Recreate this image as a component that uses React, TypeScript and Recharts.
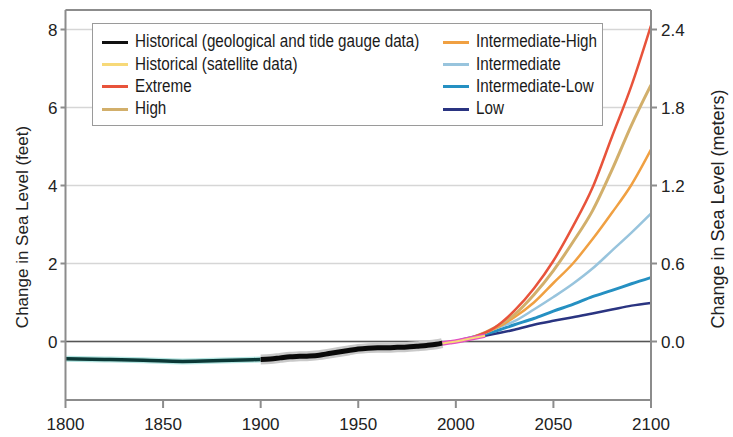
import { LineChart, Line, XAxis, YAxis, CartesianGrid, ReferenceLine, Legend } from 'recharts'

const geoYears = [1800, 1820, 1840, 1860, 1880, 1900]
const geoFeet = [-0.44, -0.46, -0.48, -0.51, -0.49, -0.46]

const tideYears = [1900, 1905, 1910, 1915, 1920, 1925, 1930, 1935, 1940, 1945, 1950, 1955, 1960, 1965, 1970, 1975, 1980, 1985, 1990, 1993]
const tideFeet = [-0.46, -0.45, -0.42, -0.39, -0.38, -0.37, -0.35, -0.31, -0.27, -0.23, -0.19, -0.17, -0.16, -0.16, -0.15, -0.14, -0.12, -0.1, -0.07, -0.04]

const satYears = [1993, 1997, 2000, 2005, 2010, 2015]
const satFeet = [-0.05, -0.02, 0.0, 0.05, 0.1, 0.15]

const projYears = [2000, 2010, 2020, 2030, 2040, 2050, 2060, 2070, 2080, 2090, 2100]
const extremeFeet = [0, 0.13, 0.36, 0.79, 1.36, 2.07, 2.95, 3.94, 5.25, 6.56, 8.1]
const highFeet = [0, 0.13, 0.36, 0.69, 1.2, 1.82, 2.55, 3.35, 4.4, 5.55, 6.58]
const intHighFeet = [0, 0.13, 0.33, 0.62, 1.0, 1.5, 2.0, 2.62, 3.3, 4.02, 4.92]
const intermediateFeet = [0, 0.13, 0.33, 0.52, 0.82, 1.14, 1.48, 1.87, 2.33, 2.79, 3.28]
const intLowFeet = [0, 0.13, 0.26, 0.43, 0.59, 0.78, 0.95, 1.15, 1.31, 1.48, 1.64]
const lowFeet = [0, 0.1, 0.2, 0.3, 0.43, 0.53, 0.62, 0.72, 0.82, 0.92, 0.99]

const yearTicks = [1800, 1850, 1900, 1950, 2000, 2050, 2100]
const feetTicks = [0, 2, 4, 6, 8]
const meterTicks = [0, 0.6, 1.2, 1.8, 2.4]

const legendLeft = [
  { name: 'Historical (geological and tide gauge data)', color: '#111111' },
  { name: 'Historical (satellite data)', color: '#f7d978' },
  { name: 'Extreme', color: '#e8533b' },
  { name: 'High', color: '#d2af6b' },
]
const legendRight = [
  { name: 'Intermediate-High', color: '#f0a042' },
  { name: 'Intermediate', color: '#98c4dd' },
  { name: 'Intermediate-Low', color: '#2590c2' },
  { name: 'Low', color: '#2a3481' },
]

const zip = (years: number[], vals: number[]) => years.map((year, i) => ({ year, v: vals[i] }))

const FONT = "'Liberation Sans', Arial, sans-serif"
const AXIS = '#8c8c8c'

function LegendBox() {
  const col = (items: { name: string; color: string }[]) => (
    <div>
      {items.map((it) => (
        <div key={it.name} style={{ display: 'flex', alignItems: 'center', height: 22.3 }}>
          <div style={{ width: 26, height: 3, flexShrink: 0, background: it.color, marginRight: 7 }} />
          <span style={{ fontSize: 17.5, color: '#1a1a1a', transform: 'scaleX(0.87)', transformOrigin: 'left center', whiteSpace: 'nowrap', display: 'inline-block' }}>{it.name}</span>
        </div>
      ))}
    </div>
  )
  return (
    <div style={{ boxSizing: 'border-box', width: 511, height: 103, border: '1.5px solid #9a9a9a', background: '#fff', padding: '7px 0 0 9px', display: 'flex', fontFamily: FONT, lineHeight: 1 }}>
      <div style={{ width: 341, flexShrink: 0, overflow: 'visible' }}>{col(legendLeft)}</div>
      {col(legendRight)}
    </div>
  )
}

export default function App() {
  const tick = { fontSize: 17, fill: '#222', fontFamily: FONT }
  return (
    <div style={{ position: 'absolute', left: 0, top: 0, background: '#fff' }}>
      <LineChart width={733} height={437} margin={{ top: 10, right: 0, bottom: 0, left: 0 }}>
        <CartesianGrid yAxisId="left" vertical={false} stroke="#d6d6d6" strokeWidth={1.5} />
        <XAxis
          dataKey="year"
          type="number"
          domain={[1800, 2100]}
          ticks={yearTicks}
          height={37}
          tick={tick}
          tickSize={8}
          tickMargin={10}
          axisLine={{ stroke: AXIS, strokeWidth: 2 }}
          tickLine={{ stroke: AXIS, strokeWidth: 2 }}
          allowDataOverflow
        />
        <YAxis
          yAxisId="left"
          type="number"
          domain={[-1.5, 8.5]}
          ticks={feetTicks}
          width={65.5}
          tick={tick}
          tickSize={5}
          tickMargin={3}
          axisLine={{ stroke: AXIS, strokeWidth: 2 }}
          tickLine={{ stroke: AXIS, strokeWidth: 2 }}
          label={{ value: 'Change in Sea Level (feet)', angle: -90, position: 'center', dx: -11, dy: 22, style: { fontSize: 17, fill: '#222', fontFamily: FONT } }}
        />
        <YAxis
          yAxisId="right"
          orientation="right"
          type="number"
          domain={[-0.45, 2.55]}
          ticks={meterTicks}
          tickFormatter={(v: number) => v.toFixed(1)}
          width={82}
          tick={tick}
          tickSize={6}
          tickMargin={4}
          axisLine={{ stroke: AXIS, strokeWidth: 2 }}
          tickLine={{ stroke: AXIS, strokeWidth: 2 }}
          label={{ value: 'Change in Sea Level (meters)', angle: -90, position: 'center', dx: 26, dy: 4, style: { fontSize: 18, fill: '#222', fontFamily: FONT } }}
        />
        <ReferenceLine yAxisId="left" y={8.5} stroke={AXIS} strokeWidth={2} />
        <ReferenceLine yAxisId="left" y={0} stroke="#555" strokeWidth={1.5} />

        {/* metres twin of the Low scenario, invisible, keeps the right axis alive */}
        <Line yAxisId="right" data={zip(projYears, lowFeet.map((f) => f * 0.3))} dataKey="v" stroke="none" strokeWidth={0} dot={false} activeDot={false} isAnimationActive={false} legendType="none" />

        <Line yAxisId="left" type="monotone" data={zip(projYears, lowFeet)} dataKey="v" stroke="#2a3481" strokeWidth={2.5} dot={false} isAnimationActive={false} legendType="none" />
        <Line yAxisId="left" type="monotone" data={zip(projYears, intLowFeet)} dataKey="v" stroke="#2590c2" strokeWidth={3} dot={false} isAnimationActive={false} legendType="none" />
        <Line yAxisId="left" type="monotone" data={zip(projYears, intermediateFeet)} dataKey="v" stroke="#98c4dd" strokeWidth={2.5} dot={false} isAnimationActive={false} legendType="none" />
        <Line yAxisId="left" type="monotone" data={zip(projYears, intHighFeet)} dataKey="v" stroke="#f0a042" strokeWidth={2.5} dot={false} isAnimationActive={false} legendType="none" />
        <Line yAxisId="left" type="monotone" data={zip(projYears, highFeet)} dataKey="v" stroke="#d2af6b" strokeWidth={3} dot={false} isAnimationActive={false} legendType="none" />
        <Line yAxisId="left" type="monotone" data={zip(projYears, extremeFeet)} dataKey="v" stroke="#e8533b" strokeWidth={2.5} dot={false} isAnimationActive={false} legendType="none" />

        <Line yAxisId="left" type="monotone" data={zip(satYears, satFeet)} dataKey="v" stroke="#e34fc4" strokeWidth={4.5} dot={false} isAnimationActive={false} legendType="none" />
        <Line yAxisId="left" type="monotone" data={zip(satYears, satFeet)} dataKey="v" stroke="#f7d978" strokeWidth={2} dot={false} isAnimationActive={false} legendType="none" />

        <Line yAxisId="left" type="monotone" data={zip(geoYears, geoFeet)} dataKey="v" stroke="#b5e6e2" strokeWidth={6} dot={false} isAnimationActive={false} legendType="none" />
        <Line yAxisId="left" type="monotone" data={zip(geoYears, geoFeet)} dataKey="v" stroke="#0b3836" strokeWidth={3.5} dot={false} isAnimationActive={false} legendType="none" />
        <Line yAxisId="left" type="monotone" data={zip(tideYears, tideFeet)} dataKey="v" stroke="#c9c9c9" strokeWidth={10} dot={false} isAnimationActive={false} legendType="none" />
        <Line yAxisId="left" type="monotone" data={zip(tideYears, tideFeet)} dataKey="v" stroke="#0a0a0a" strokeWidth={5} dot={false} isAnimationActive={false} legendType="none" />

        <Legend
          layout="vertical"
          align="center"
          verticalAlign="middle"
          content={() => <LegendBox />}
          wrapperStyle={{ top: 23, left: 92, width: 511, height: 103 }}
        />
      </LineChart>
    </div>
  )
}
